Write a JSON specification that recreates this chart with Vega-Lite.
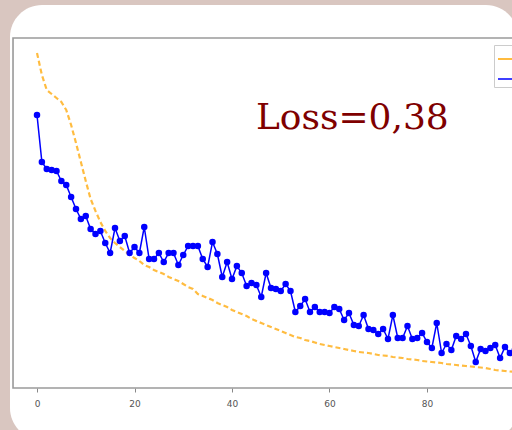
{
  "$schema": "https://vega.github.io/schema/vega-lite/v6.json",
  "autosize": {"type": "none"},
  "padding": {"left": 10, "top": 5, "right": -6, "bottom": -10},
  "width": 508,
  "height": 435,
  "background": "#d9c6c0",
  "config": {
    "view": {"fill": "white", "stroke": null, "cornerRadius": 32}
  },
  "datasets": {
    "loss": [
      {"epoch":0,"train":3.35,"val":2.73},{"epoch":1,"train":3.13,"val":2.26},{"epoch":2,"train":2.98,"val":2.19},{"epoch":3,"train":2.94,"val":2.18},{"epoch":4,"train":2.90,"val":2.17},
      {"epoch":5,"train":2.86,"val":2.07},{"epoch":6,"train":2.78,"val":2.03},{"epoch":7,"train":2.63,"val":1.91},{"epoch":8,"train":2.45,"val":1.79},{"epoch":9,"train":2.26,"val":1.69},
      {"epoch":10,"train":2.07,"val":1.72},{"epoch":11,"train":1.89,"val":1.59},{"epoch":12,"train":1.77,"val":1.54},{"epoch":13,"train":1.66,"val":1.57},{"epoch":14,"train":1.57,"val":1.45},
      {"epoch":15,"train":1.50,"val":1.35},{"epoch":16,"train":1.45,"val":1.60},{"epoch":17,"train":1.41,"val":1.47},{"epoch":18,"train":1.37,"val":1.52},{"epoch":19,"train":1.33,"val":1.35},
      {"epoch":20,"train":1.30,"val":1.41},{"epoch":21,"train":1.27,"val":1.35},{"epoch":22,"train":1.23,"val":1.61},{"epoch":23,"train":1.21,"val":1.29},{"epoch":24,"train":1.18,"val":1.29},
      {"epoch":25,"train":1.16,"val":1.35},{"epoch":26,"train":1.14,"val":1.26},{"epoch":27,"train":1.11,"val":1.35},{"epoch":28,"train":1.09,"val":1.35},{"epoch":29,"train":1.07,"val":1.23},
      {"epoch":30,"train":1.04,"val":1.33},{"epoch":31,"train":1.01,"val":1.42},{"epoch":32,"train":0.99,"val":1.42},{"epoch":33,"train":0.94,"val":1.42},{"epoch":34,"train":0.92,"val":1.29},
      {"epoch":35,"train":0.90,"val":1.21},{"epoch":36,"train":0.88,"val":1.46},{"epoch":37,"train":0.85,"val":1.34},{"epoch":38,"train":0.83,"val":1.11},{"epoch":39,"train":0.81,"val":1.26},
      {"epoch":40,"train":0.78,"val":1.09},{"epoch":41,"train":0.76,"val":1.22},{"epoch":42,"train":0.74,"val":1.15},{"epoch":43,"train":0.72,"val":1.02},{"epoch":44,"train":0.69,"val":1.05},
      {"epoch":45,"train":0.67,"val":1.03},{"epoch":46,"train":0.65,"val":0.91},{"epoch":47,"train":0.63,"val":1.15},{"epoch":48,"train":0.61,"val":1.00},{"epoch":49,"train":0.59,"val":0.99},
      {"epoch":50,"train":0.57,"val":0.97},{"epoch":51,"train":0.55,"val":1.04},{"epoch":52,"train":0.53,"val":0.97},{"epoch":53,"train":0.51,"val":0.76},{"epoch":54,"train":0.50,"val":0.82},
      {"epoch":55,"train":0.48,"val":0.89},{"epoch":56,"train":0.47,"val":0.76},{"epoch":57,"train":0.455,"val":0.81},{"epoch":58,"train":0.44,"val":0.76},{"epoch":59,"train":0.43,"val":0.76},
      {"epoch":60,"train":0.42,"val":0.75},{"epoch":61,"train":0.41,"val":0.81},{"epoch":62,"train":0.40,"val":0.79},{"epoch":63,"train":0.39,"val":0.68},{"epoch":64,"train":0.38,"val":0.75},
      {"epoch":65,"train":0.37,"val":0.63},{"epoch":66,"train":0.36,"val":0.62},{"epoch":67,"train":0.355,"val":0.73},{"epoch":68,"train":0.35,"val":0.59},{"epoch":69,"train":0.34,"val":0.58},
      {"epoch":70,"train":0.33,"val":0.54},{"epoch":71,"train":0.325,"val":0.59},{"epoch":72,"train":0.32,"val":0.49},{"epoch":73,"train":0.31,"val":0.73},{"epoch":74,"train":0.305,"val":0.50},
      {"epoch":75,"train":0.30,"val":0.50},{"epoch":76,"train":0.29,"val":0.62},{"epoch":77,"train":0.285,"val":0.49},{"epoch":78,"train":0.28,"val":0.50},{"epoch":79,"train":0.27,"val":0.55},
      {"epoch":80,"train":0.265,"val":0.46},{"epoch":81,"train":0.26,"val":0.40},{"epoch":82,"train":0.255,"val":0.65},{"epoch":83,"train":0.25,"val":0.35},{"epoch":84,"train":0.24,"val":0.44},
      {"epoch":85,"train":0.235,"val":0.38},{"epoch":86,"train":0.23,"val":0.52},{"epoch":87,"train":0.225,"val":0.49},{"epoch":88,"train":0.22,"val":0.54},{"epoch":89,"train":0.215,"val":0.42},
      {"epoch":90,"train":0.21,"val":0.26},{"epoch":91,"train":0.205,"val":0.39},{"epoch":92,"train":0.20,"val":0.37},{"epoch":93,"train":0.19,"val":0.40},{"epoch":94,"train":0.18,"val":0.43},
      {"epoch":95,"train":0.175,"val":0.30},{"epoch":96,"train":0.17,"val":0.41},{"epoch":97,"train":0.165,"val":0.35},{"epoch":98,"train":0.16,"val":0.38},{"epoch":99,"train":0.155,"val":0.36}
    ]
  },
  "layer": [
    {
      "data": {"values": [{}]},
      "mark": {"type": "rect", "fill": null, "stroke": "#9a9a9a", "strokeWidth": 1.6},
      "encoding": {
        "x": {"datum": -4.92, "type": "quantitative", "scale": {"domain": [-5.54, 98.67], "nice": false, "zero": false},
          "axis": {"values": [0, 20, 40, 60, 80], "offset": -52, "domain": false, "grid": false, "ticks": true, "tickColor": "#888", "tickSize": 4, "labelFontSize": 9, "labelColor": "#555", "labelFont": "DejaVu Sans", "labelPadding": 7, "title": null}},
        "x2": {"datum": 100.1},
        "y": {"datum": 0, "type": "quantitative", "scale": {"domain": [-0.52, 3.83], "nice": false, "zero": false}, "axis": null},
        "y2": {"datum": 3.5}
      }
    },
    {
      "data": {"name": "loss"},
      "mark": {"type": "line", "strokeDash": [5, 3], "strokeWidth": 2.2, "opacity": 0.75},
      "encoding": {
        "x": {"field": "epoch", "type": "quantitative"},
        "y": {"field": "train", "type": "quantitative"},
        "color": {"datum": "Training loss", "type": "nominal",
          "scale": {"domain": ["Training loss", "Validation loss"], "range": ["#ffa500", "#0000ff"]},
          "legend": {"orient": "none", "legendX": 484, "legendY": 40, "title": null, "labels": false, "fillColor": "white", "strokeColor": "#cccccc", "padding": 3, "symbolType": "stroke", "symbolSize": 400, "symbolStrokeWidth": 2, "rowPadding": 4,
            "encode": {"symbols": {"update": {"strokeDash": {"signal": "datum.value === 'Training loss' ? [4, 2] : [1, 0]"}}}}}}
      }
    },
    {
      "data": {"name": "loss"},
      "mark": {"type": "line", "strokeWidth": 1.5, "point": {"filled": true, "size": 42, "color": "#0000ff"}},
      "encoding": {
        "x": {"field": "epoch", "type": "quantitative"},
        "y": {"field": "val", "type": "quantitative"},
        "color": {"datum": "Validation loss", "type": "nominal"}
      }
    },
    {
      "data": {"values": [{}]},
      "mark": {"type": "text", "font": "DejaVu Serif", "fontSize": 36, "color": "#7f0000", "align": "left", "baseline": "alphabetic"},
      "encoding": {
        "x": {"datum": 44.9, "type": "quantitative"},
        "y": {"datum": 2.59, "type": "quantitative"},
        "text": {"value": "Loss=0,38"}
      }
    }
  ]
}
